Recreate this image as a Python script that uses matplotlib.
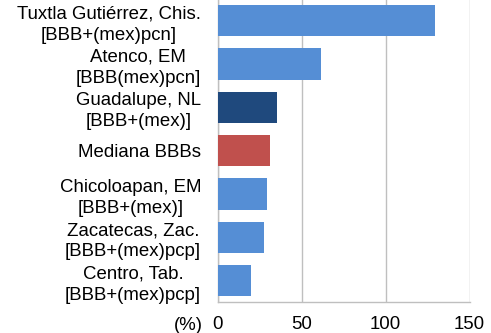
import matplotlib
matplotlib.use("Agg")
import matplotlib.pyplot as plt

categories = [
    "Tuxtla Gutiérrez, Chis.\n[BBB+(mex)pcn]",
    "Atenco, EM\n[BBB(mex)pcn]",
    "Guadalupe, NL\n[BBB+(mex)]",
    "Mediana BBBs",
    "Chicoloapan, EM\n[BBB+(mex)]",
    "Zacatecas, Zac.\n[BBB+(mex)pcp]",
    "Centro, Tab.\n[BBB+(mex)pcp]",
]
values = [129.5, 61.4, 35.3, 31.2, 29.2, 27.6, 19.8]
colors = ["#558ED5", "#558ED5", "#1F497D", "#C0504D", "#558ED5", "#558ED5", "#558ED5"]
xticks = [0, 50, 100, 150]

plt.rcParams['font.family'] = ['Liberation Sans', 'DejaVu Sans']
FS = 13.4

fig = plt.figure(figsize=(4.91, 3.33), dpi=100)
W, H = 491, 333
left, right = 217.7, 469.5
top, bottom = -1.0, 302.3
ax = fig.add_axes([left / W, 1 - bottom / H, (right - left) / W, (bottom - top) / H])

pos = list(range(len(categories)))
ax.barh(pos, values, height=0.725, color=colors, zorder=3)
ax.set_ylim(len(categories) - 0.5, -0.5)
ax.set_xlim(0, 150)
ax.set_xticks(xticks)
ax.set_xticklabels([str(t) for t in xticks])
ax.set_yticks(pos)
ax.set_yticklabels(categories, multialignment='center', linespacing=1.3)
ax.tick_params(axis='both', length=0, labelsize=FS, colors='black')
ax.tick_params(axis='x', pad=10)
ax.tick_params(axis='y', pad=12)
ax.grid(axis='x', color='#BFBFBF', linewidth=1, zorder=0)
for s in ['top', 'right']:
    ax.spines[s].set_visible(False)
for s in ['left', 'bottom']:
    ax.spines[s].set_color('#BFBFBF')
    ax.spines[s].set_linewidth(1)
fig.text(203 / W, 1 - 326 / H, "(%)", fontsize=FS, ha='right', va='center')

fig.savefig("out.png", dpi=100)
